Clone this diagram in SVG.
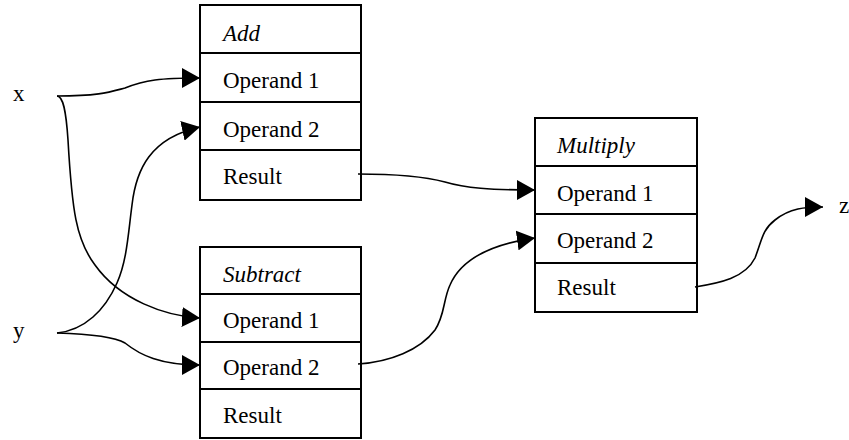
<svg xmlns="http://www.w3.org/2000/svg" width="849" height="440" viewBox="0 0 849 440">
<style>
.box{fill:#fff;stroke:#000;stroke-width:2}
.sep{stroke:#000;stroke-width:2}
text{font-family:'Liberation Serif','Times New Roman',serif;font-size:23px;fill:#000}
.ti{font-style:italic}
.c{fill:none;stroke:#000;stroke-width:1.6}
</style>
<defs>
<marker id="ah" markerUnits="userSpaceOnUse" markerWidth="18" markerHeight="20" refX="18" refY="10" orient="auto" viewBox="0 0 18 20">
<path d="M0,0 L18,10 L0,20 Z" fill="#000"/>
</marker>
</defs>
<rect width="849" height="440" fill="#fff"/>
<g id="add">
<rect class="box" x="200" y="5" width="161" height="195"/>
<line class="sep" x1="200" y1="53" x2="361" y2="53"/>
<line class="sep" x1="200" y1="102" x2="361" y2="102"/>
<line class="sep" x1="200" y1="150" x2="361" y2="150"/>
<text class="ti" x="223" y="41">Add</text>
<text x="223" y="88">Operand 1</text>
<text x="223" y="137">Operand 2</text>
<text x="223" y="184">Result</text>
</g>
<g id="subtract">
<rect class="box" x="200" y="247" width="161" height="191"/>
<line class="sep" x1="200" y1="294" x2="361" y2="294"/>
<line class="sep" x1="200" y1="342" x2="361" y2="342"/>
<line class="sep" x1="200" y1="389" x2="361" y2="389"/>
<text class="ti" x="223" y="282">Subtract</text>
<text x="223" y="328">Operand 1</text>
<text x="223" y="375">Operand 2</text>
<text x="223" y="423">Result</text>
</g>
<g id="multiply">
<rect class="box" x="535" y="118" width="162" height="194"/>
<line class="sep" x1="535" y1="166" x2="697" y2="166"/>
<line class="sep" x1="535" y1="214" x2="697" y2="214"/>
<line class="sep" x1="535" y1="263" x2="697" y2="263"/>
<text class="ti" x="557" y="153">Multiply</text>
<text x="557" y="201">Operand 1</text>
<text x="557" y="248">Operand 2</text>
<text x="557" y="295">Result</text>
</g>
<g id="x"><text x="13" y="101">x</text></g>
<g id="y"><text x="13" y="338">y</text></g>
<g id="z"><text x="839" y="213">z</text></g>
<g id="connectors">
<path class="c" marker-end="url(#ah)" d="M57,96 C100,96 110,92 125,88 C145,80 160,78 200,78"/>
<path class="c" marker-end="url(#ah)" d="M57,96 C63,96 66,110 68,140 C72,210 76,240 95,265 C120,300 165,316 200,318"/>
<path class="c" marker-end="url(#ah)" d="M57,333 C85,330 105,310 117,283 C127,260 128,235 132,205 C136,170 150,138 200,127"/>
<path class="c" marker-end="url(#ah)" d="M57,333 C90,334 115,337 125,343 C140,355 160,365 200,365"/>
<path class="c" marker-end="url(#ah)" d="M358,174 C400,174 430,178 445,182 C465,188 490,190 535,190"/>
<path class="c" marker-end="url(#ah)" d="M358,364 C390,362 420,350 435,330 C445,315 443,300 450,285 C460,262 485,245 535,238"/>
<path class="c" marker-end="url(#ah)" d="M695,287 C720,283 745,278 755,258 C762,240 762,230 775,220 C790,208 805,207 823,207"/>
</g>
</svg>
